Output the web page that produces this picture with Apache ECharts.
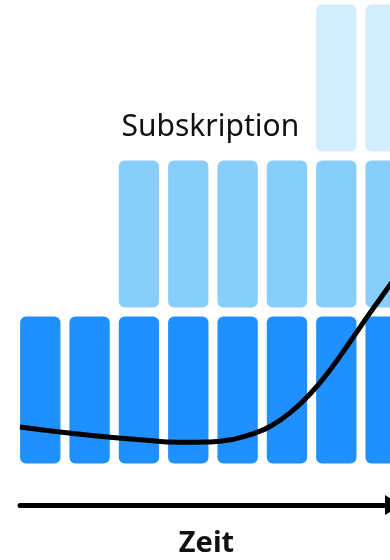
<!DOCTYPE html>
<html>
<head>
<meta charset="utf-8">
<script src="https://cdn.jsdelivr.net/npm/echarts@6/dist/echarts.min.js"></script>
<style>
  html, body { margin: 0; padding: 0; background: #ffffff; }
  #chart { width: 390px; height: 560px; }
</style>
</head>
<body>
<div id="chart"></div>
<script>
// Periods along the time axis
const periods = ['1', '2', '3', '4', '5', '6', '7', '8'];

// Revenue blocks per period (1 = block present)
const baseTier = [1, 1, 1, 1, 1, 1, 1, 1];
const subscriptionTier = [0, 0, 1, 1, 1, 1, 1, 1];
const topTier = [0, 0, 0, 0, 0, 0, 1, 1];

// Trend curve, x in period units (column centres at 0..7), y in block units
const trendX = [-0.411, 0.400, 1.211, 2.022, 2.833, 3.440, 3.947, 4.352, 4.656, 5.061, 5.467, 5.872, 6.277, 6.683, 7.088, 7.392];
const trendY = [0.263, 0.231, 0.204, 0.181, 0.165, 0.167, 0.187, 0.224, 0.266, 0.353, 0.474, 0.628, 0.808, 0.994, 1.173, 1.308];

const tierColors = ['#1E90FF', '#87CEFA', '#D2EDFD'];

const cells = [];
[baseTier, subscriptionTier, topTier].forEach(function (tier, level) {
  tier.forEach(function (v, i) {
    if (v) cells.push([i, level]);
  });
});

const trend = trendX.map(function (x, i) { return [x, trendY[i]]; });

const chart = echarts.init(document.getElementById('chart'), null, { renderer: 'canvas' });

chart.setOption({
  animation: false,
  backgroundColor: '#ffffff',
  title: {
    text: 'Subskription',
    left: 121.5,
    top: 112,
    padding: 0,
    textStyle: {
      fontFamily: 'Noto Sans',
      fontSize: 30,
      fontWeight: 'normal',
      color: '#111111'
    }
  },
  grid: [
    { left: 15.6, width: 394.7, top: 0, bottom: 92, outerBoundsMode: 'none', containLabel: false },
    { left: 20, width: 373, top: 400, bottom: 55, outerBoundsMode: 'none', containLabel: false }
  ],
  xAxis: [
    {
      type: 'category', gridIndex: 0, data: periods,
      axisLine: { show: false }, axisTick: { show: false },
      axisLabel: { show: false }, splitLine: { show: false }
    },
    {
      type: 'value', gridIndex: 0, min: -0.5, max: 7.5, show: false
    },
    {
      type: 'value', gridIndex: 1, min: 0, max: 1,
      position: 'bottom',
      name: 'Zeit',
      nameLocation: 'middle',
      nameGap: 24,
      nameTextStyle: {
        fontFamily: 'Noto Sans',
        fontSize: 29,
        fontWeight: 'bold',
        color: '#111111'
      },
      axisLine: {
        show: true,
        symbol: ['none', 'triangle'],
        symbolSize: [20, 16],
        lineStyle: { color: '#000000', width: 5 }
      },
      axisTick: { show: false },
      axisLabel: { show: false },
      splitLine: { show: false }
    }
  ],
  yAxis: [
    { type: 'value', gridIndex: 0, min: 0, max: 3, show: false },
    { type: 'value', gridIndex: 1, min: 0, max: 1, show: false }
  ],
  series: [
    {
      type: 'custom',
      xAxisIndex: 0,
      yAxisIndex: 0,
      data: cells,
      encode: { x: 0, y: 1 },
      renderItem: function (params, api) {
        const i = api.value(0);
        const level = api.value(1);
        const bottom = api.coord([i, level]);
        const top = api.coord([i, level + 1]);
        const band = api.size([1, 0])[0];
        const gap = 9;
        const w = band - gap;
        return {
          type: 'rect',
          shape: {
            x: bottom[0] - w / 2,
            y: top[1] + gap / 2,
            width: w,
            height: bottom[1] - top[1] - gap,
            r: 6
          },
          style: { fill: tierColors[level] }
        };
      }
    },
    {
      type: 'line',
      xAxisIndex: 1,
      yAxisIndex: 0,
      data: trend,
      smooth: 0.5,
      symbol: 'none',
      lineStyle: { color: '#000000', width: 5 },
      z: 5
    }
  ]
});
</script>
</body>
</html>
